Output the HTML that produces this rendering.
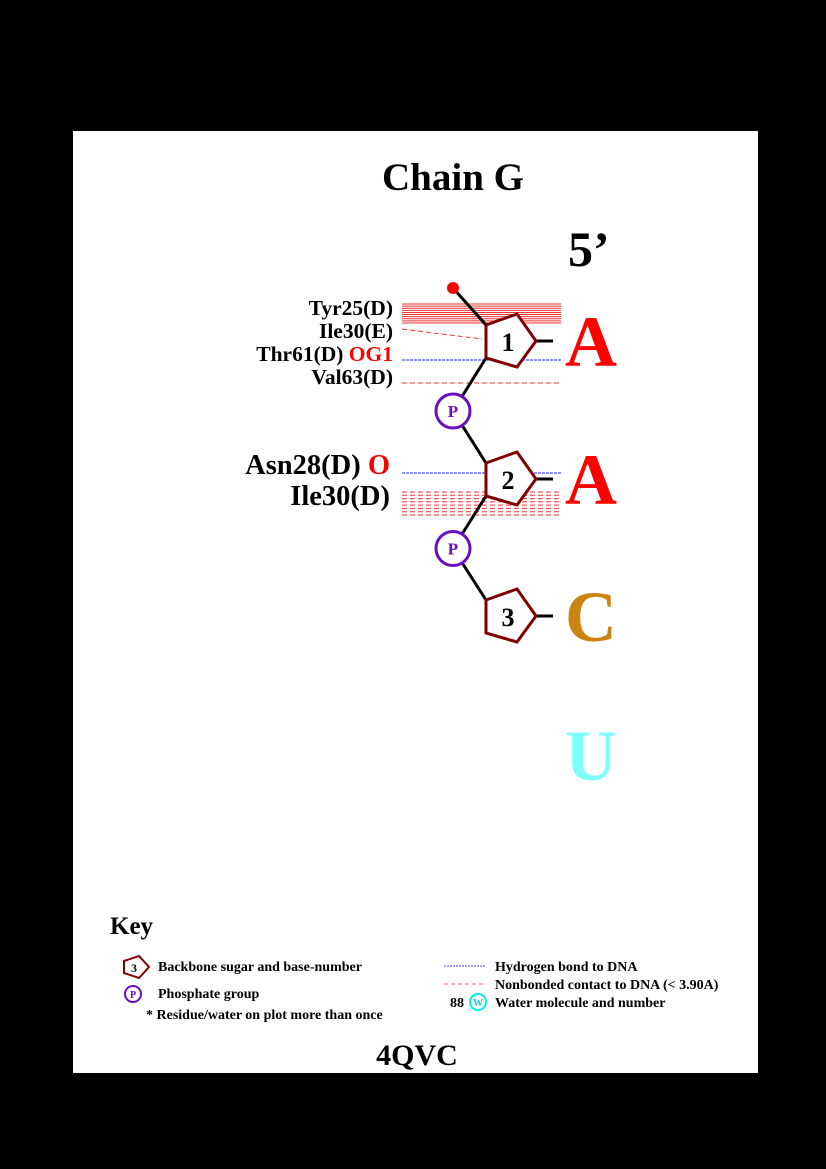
<!DOCTYPE html>
<html><head><meta charset="utf-8"><style>
html,body{margin:0;padding:0;background:#000;}
svg{display:block;font-family:"Liberation Serif",serif;font-weight:bold;}
</style></head><body>
<svg width="826" height="1169" viewBox="0 0 826 1169">
<rect x="0" y="0" width="826" height="1169" fill="#000"/>
<rect x="73" y="131" width="685" height="942" fill="#fff"/>
<text x="453" y="190" font-size="39" text-anchor="middle">Chain G</text>
<text x="568" y="266" font-size="50">5’</text>
<g id="contacts"></g>
<g id="backbone"></g>
<g id="labels" font-size="21.5" text-anchor="end">
<text x="393" y="315">Tyr25(D)</text>
<text x="393" y="338">Ile30(E)</text>
<text x="393" y="361">Thr61(D) <tspan fill="#f00">OG1</tspan></text>
<text x="393" y="384">Val63(D)</text>
<text x="390" y="474" font-size="28.5">Asn28(D) <tspan fill="#f00">O</tspan></text>
<text x="390" y="505" font-size="28.5">Ile30(D)</text>
</g>
<g font-size="72">
<text x="565" y="366" fill="#f00">A</text>
<text x="565" y="504" fill="#f00">A</text>
<text x="565" y="641" fill="#cc8410">C</text>
<text x="565" y="780" fill="#80ffff">U</text>
</g>
<text x="110" y="934" font-size="25">Key</text>
<g font-size="14">
<polygon points="124,961 139,956 149,967 139,978 124,973" fill="#fff" stroke="#800000" stroke-width="2"/>
<text x="134" y="972" font-size="12" text-anchor="middle">3</text>
<text x="158" y="971">Backbone sugar and base-number</text>
<circle cx="133" cy="994" r="8" fill="#fff" stroke="#6a0dc0" stroke-width="2"/>
<text x="133" y="998" font-size="10" text-anchor="middle" fill="#6a0dc0">P</text>
<text x="158" y="998">Phosphate group</text>
<text x="146" y="1019">* Residue/water on plot more than once</text>
<line x1="444" y1="966" x2="486" y2="966" stroke="#4040ff" stroke-width="1" stroke-dasharray="2,1"/>
<text x="495" y="971">Hydrogen bond to DNA</text>
<line x1="444" y1="984" x2="486" y2="984" stroke="#f66" stroke-width="1" stroke-dasharray="4,3"/>
<text x="495" y="989">Nonbonded contact to DNA (&lt; 3.90A)</text>
<text x="464" y="1007" text-anchor="end">88</text>
<circle cx="478" cy="1002" r="8" fill="#fff" stroke="#0ee" stroke-width="2"/>
<text x="478" y="1006" font-size="10" text-anchor="middle" fill="#0cc">W</text>
<text x="495" y="1007">Water molecule and number</text>
</g>
<text x="417" y="1065" font-size="30" text-anchor="middle">4QVC</text>
</svg>
<script>
const NS='http://www.w3.org/2000/svg';
const sugarNumbers=[1,2,3];
const sugarY=[342,480,617];
const contactTypes=['nonbonded','nonbonded','hbond','nonbonded','hbond','nonbonded'];
const contactY1=[304,329,360,383,473,492];
const contactY2=[323,339,360,383,473,515];
const contactLineCount=[10,1,1,1,1,8];
function mk(tag,attrs,parent){const e=document.createElementNS(NS,tag);for(const k in attrs)e.setAttribute(k,attrs[k]);parent.appendChild(e);return e;}
const cg=document.getElementById('contacts');
contactTypes.forEach((t,i)=>{
  const n=contactLineCount[i];
  for(let j=0;j<n;j++){
    const y=n>1?contactY1[i]+(contactY2[i]-contactY1[i])*j/(n-1):contactY1[i];
    let x2=561,y2=y;
    if(i===1){x2=482;y2=contactY2[i];}
    const l=mk('line',{x1:402,y1:y,x2:x2,y2:y2,stroke:t==='hbond'?'#2020ff':'#e33','stroke-width':1,'stroke-dasharray':t==='hbond'?'3,1':(i===0?'none':'5,3')},cg);
    
    
  }
});
const bg=document.getElementById('backbone');
mk('line',{x1:453,y1:288,x2:486,y2:sugarY[0]-17,stroke:'#000','stroke-width':3},bg);
const dot=mk('circle',{cx:453,cy:288,r:6,fill:'#f00'},bg);


sugarY.forEach((y,i)=>{
  if(i<sugarY.length-1){
    const py=(y+sugarY[i+1])/2;
    mk('line',{x1:486,y1:y+16,x2:453,y2:py,stroke:'#000','stroke-width':3},bg);
    mk('line',{x1:453,y1:py,x2:486,y2:sugarY[i+1]-17,stroke:'#000','stroke-width':3},bg);
  }
});
sugarY.forEach((y,i)=>{
  if(i<sugarY.length-1){
    const py=(y+sugarY[i+1])/2;
    const c=mk('circle',{cx:453,cy:py,r:17,fill:'#fff',stroke:'#6a0dc0','stroke-width':3},bg);
    
    
    const t=mk('text',{x:453,y:py+6,'font-size':17,'text-anchor':'middle',fill:'#6a0dc0'},bg);t.textContent='P';
  }
  mk('line',{x1:536,y1:y-1,x2:553,y2:y-1,stroke:'#000','stroke-width':3},bg);
  const p=mk('polygon',{points:`486,${y-17} 517,${y-28} 536,${y-1} 517,${y+25} 486,${y+16}`,fill:'#fff',stroke:'#800000','stroke-width':3},bg);
  
  
  const t=mk('text',{x:508,y:y+9,'font-size':26,'text-anchor':'middle'},bg);t.textContent=sugarNumbers[i];
});
</script>
</body></html>
